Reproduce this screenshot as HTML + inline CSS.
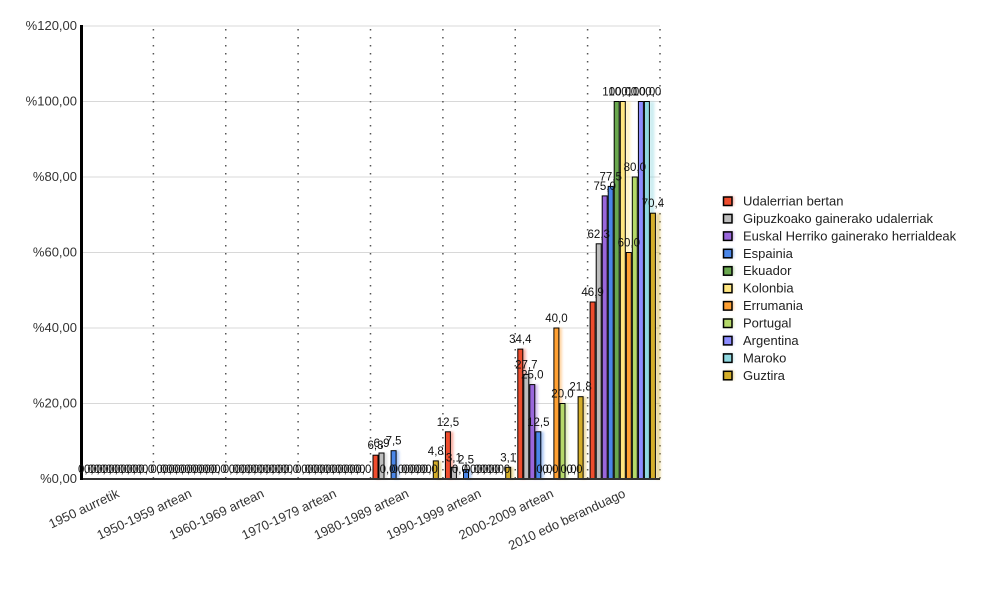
<!DOCTYPE html>
<html><head><meta charset="utf-8"><style>
html,body{margin:0;padding:0;background:#fff;}
svg{display:block;font-family:"Liberation Sans",Arial,sans-serif;}
.yl{font-size:13px;fill:#333;text-anchor:end;}
.xl{font-size:13px;fill:#333;text-anchor:end;}
.v{font-size:11.5px;fill:#111;text-anchor:middle;}
.lg{font-size:13px;fill:#222;}
.b{stroke:#000;stroke-width:1;}
</style></head><body>
<svg width="1000" height="600" viewBox="0 0 1000 600" xmlns="http://www.w3.org/2000/svg">
<defs><filter id="blur" x="-50%" y="-10%" width="200%" height="120%"><feGaussianBlur stdDeviation="1.2"/></filter></defs>
<rect width="1000" height="600" fill="#fff"/>
<!-- grid -->
<g stroke="#d8d8d8" stroke-width="1">
<line x1="81" y1="26" x2="660" y2="26"/><line x1="81" y1="101.5" x2="660" y2="101.5"/><line x1="81" y1="177" x2="660" y2="177"/><line x1="81" y1="252.5" x2="660" y2="252.5"/><line x1="81" y1="328" x2="660" y2="328"/><line x1="81" y1="403.5" x2="660" y2="403.5"/>
</g>
<g stroke="#555" stroke-width="1.5" stroke-dasharray="1.5 6.5">
<line x1="153.4" y1="29" x2="153.4" y2="479"/><line x1="225.75" y1="29" x2="225.75" y2="479"/><line x1="298.1" y1="29" x2="298.1" y2="479"/><line x1="370.5" y1="29" x2="370.5" y2="479"/><line x1="442.9" y1="29" x2="442.9" y2="479"/><line x1="515.25" y1="29" x2="515.25" y2="479"/><line x1="587.6" y1="29" x2="587.6" y2="479"/><line x1="660" y1="29" x2="660" y2="479"/>
</g>
<!-- y labels -->
<text class="yl" x="77" y="30">%120,00</text>
<text class="yl" x="77" y="105.5">%100,00</text>
<text class="yl" x="77" y="181">%80,00</text>
<text class="yl" x="77" y="256.5">%60,00</text>
<text class="yl" x="77" y="332">%40,00</text>
<text class="yl" x="77" y="407.5">%20,00</text>
<text class="yl" x="77" y="483">%0,00</text>
<!-- shadows -->
<g filter="url(#blur)" opacity="0.45">
<rect x="376" y="455.2" width="5" height="23.8" fill="#ee4d2e"/>
<rect x="382" y="453" width="5" height="26" fill="#bdbdbd"/>
<rect x="394.1" y="450.7" width="5" height="28.3" fill="#4a86e8"/>
<rect x="436.3" y="460.9" width="5" height="18.1" fill="#d4ae2a"/>
<rect x="448.4" y="431.8" width="5" height="47.2" fill="#ee4d2e"/>
<rect x="454.4" y="467.3" width="5" height="11.7" fill="#bdbdbd"/>
<rect x="466.5" y="469.6" width="5" height="9.4" fill="#4a86e8"/>
<rect x="508.7" y="467.3" width="5" height="11.7" fill="#d4ae2a"/>
<rect x="520.8" y="349.1" width="5" height="129.9" fill="#ee4d2e"/>
<rect x="526.8" y="374.4" width="5" height="104.6" fill="#bdbdbd"/>
<rect x="532.8" y="384.6" width="5" height="94.4" fill="#9a67dc"/>
<rect x="538.8" y="431.8" width="5" height="47.2" fill="#4a86e8"/>
<rect x="556.9" y="328" width="5" height="151" fill="#ffa033"/>
<rect x="563" y="403.5" width="5" height="75.5" fill="#b5d96a"/>
<rect x="581.1" y="396.7" width="5" height="82.3" fill="#d4ae2a"/>
<rect x="655.4" y="213.2" width="5" height="265.8" fill="#d4ae2a"/>
<rect x="649.4" y="101.5" width="5" height="377.5" fill="#8fd8e0"/>
<rect x="625.3" y="101.5" width="5" height="377.5" fill="#ffe680"/>
</g>
<!-- bars -->
<g class="b">
<rect x="373" y="455.2" width="5" height="23.8" fill="#ee4d2e"/>
<rect x="379" y="453" width="5" height="26" fill="#bdbdbd"/>
<rect x="391.1" y="450.7" width="5" height="28.3" fill="#4a86e8"/>
<rect x="433.3" y="460.9" width="5" height="18.1" fill="#d4ae2a"/>
<rect x="445.4" y="431.8" width="5" height="47.2" fill="#ee4d2e"/>
<rect x="451.4" y="467.3" width="5" height="11.7" fill="#bdbdbd"/>
<rect x="463.5" y="469.6" width="5" height="9.4" fill="#4a86e8"/>
<rect x="505.7" y="467.3" width="5" height="11.7" fill="#d4ae2a"/>
<rect x="517.8" y="349.1" width="5" height="129.9" fill="#ee4d2e"/>
<rect x="523.8" y="374.4" width="5" height="104.6" fill="#bdbdbd"/>
<rect x="529.8" y="384.6" width="5" height="94.4" fill="#9a67dc"/>
<rect x="535.8" y="431.8" width="5" height="47.2" fill="#4a86e8"/>
<rect x="553.9" y="328" width="5" height="151" fill="#ffa033"/>
<rect x="560" y="403.5" width="5" height="75.5" fill="#b5d96a"/>
<rect x="578.1" y="396.7" width="5" height="82.3" fill="#d4ae2a"/>
<rect x="590.1" y="302" width="5" height="177" fill="#ee4d2e"/>
<rect x="596.2" y="243.8" width="5" height="235.2" fill="#bdbdbd"/>
<rect x="602.2" y="195.9" width="5" height="283.1" fill="#9a67dc"/>
<rect x="608.2" y="186.4" width="5" height="292.6" fill="#4a86e8"/>
<rect x="614.2" y="101.5" width="5" height="377.5" fill="#6aa84f"/>
<rect x="620.3" y="101.5" width="5" height="377.5" fill="#ffe680"/>
<rect x="626.3" y="252.5" width="5" height="226.5" fill="#ffa033"/>
<rect x="632.3" y="177" width="5" height="302" fill="#b5d96a"/>
<rect x="638.4" y="101.5" width="5" height="377.5" fill="#8c8cff"/>
<rect x="644.4" y="101.5" width="5" height="377.5" fill="#8fd8e0"/>
<rect x="650.4" y="213.2" width="5" height="265.8" fill="#d4ae2a"/>
</g>
<!-- axes -->
<line x1="80" y1="479" x2="660" y2="479" stroke="#333" stroke-width="2"/>
<line x1="81.5" y1="25" x2="81.5" y2="480" stroke="#000" stroke-width="3"/>
<!-- value labels -->
<g class="v">
<text x="86" y="473">0,0</text><text x="92" y="473">0,0</text><text x="98.1" y="473">0,0</text><text x="104.1" y="473">0,0</text><text x="110.1" y="473">0,0</text><text x="116.2" y="473">0,0</text><text x="122.2" y="473">0,0</text><text x="128.2" y="473">0,0</text><text x="134.2" y="473">0,0</text><text x="140.3" y="473">0,0</text><text x="146.3" y="473">0,0</text>
<text x="158.4" y="473">0,0</text><text x="164.4" y="473">0,0</text><text x="170.4" y="473">0,0</text><text x="176.5" y="473">0,0</text><text x="182.5" y="473">0,0</text><text x="188.5" y="473">0,0</text><text x="194.6" y="473">0,0</text><text x="200.6" y="473">0,0</text><text x="206.6" y="473">0,0</text><text x="212.6" y="473">0,0</text><text x="218.7" y="473">0,0</text>
<text x="230.8" y="473">0,0</text><text x="236.8" y="473">0,0</text><text x="242.8" y="473">0,0</text><text x="248.8" y="473">0,0</text><text x="254.9" y="473">0,0</text><text x="260.9" y="473">0,0</text><text x="266.9" y="473">0,0</text><text x="273" y="473">0,0</text><text x="279" y="473">0,0</text><text x="285" y="473">0,0</text><text x="291.1" y="473">0,0</text>
<text x="303.1" y="473">0,0</text><text x="309.2" y="473">0,0</text><text x="315.2" y="473">0,0</text><text x="321.2" y="473">0,0</text><text x="327.2" y="473">0,0</text><text x="333.3" y="473">0,0</text><text x="339.3" y="473">0,0</text><text x="345.3" y="473">0,0</text><text x="351.4" y="473">0,0</text><text x="357.4" y="473">0,0</text><text x="363.4" y="473">0,0</text>
<text x="375.5" y="449.2">6,3</text><text x="381.5" y="447">6,9</text><text x="387.6" y="473">0,0</text><text x="393.6" y="444.7">7,5</text><text x="399.6" y="473">0,0</text><text x="405.7" y="473">0,0</text><text x="411.7" y="473">0,0</text><text x="417.7" y="473">0,0</text><text x="423.7" y="473">0,0</text><text x="429.8" y="473">0,0</text><text x="435.8" y="454.9">4,8</text>
<text x="447.9" y="425.8">12,5</text><text x="453.9" y="461.3">3,1</text><text x="459.9" y="473">0,0</text><text x="466" y="463.6">2,5</text><text x="472" y="473">0,0</text><text x="478" y="473">0,0</text><text x="484.1" y="473">0,0</text><text x="490.1" y="473">0,0</text><text x="496.1" y="473">0,0</text><text x="502.2" y="473">0,0</text><text x="508.2" y="461.3">3,1</text>
<text x="520.3" y="343.1">34,4</text><text x="526.3" y="368.4">27,7</text><text x="532.3" y="378.6">25,0</text><text x="538.3" y="425.8">12,5</text><text x="544.4" y="473">0,0</text><text x="550.4" y="473">0,0</text><text x="556.4" y="322">40,0</text><text x="562.5" y="397.5">20,0</text><text x="568.5" y="473">0,0</text><text x="574.5" y="473">0,0</text><text x="580.6" y="390.7">21,8</text>
<text x="592.6" y="296">46,9</text><text x="598.7" y="237.8">62,3</text><text x="604.7" y="189.9">75,0</text><text x="610.7" y="180.4">77,5</text><text x="616.7" y="95.5">100,0</text><text x="622.8" y="95.5">100,0</text><text x="628.8" y="246.5">60,0</text><text x="634.8" y="171">80,0</text><text x="640.9" y="95.5">100,0</text><text x="646.9" y="95.5">100,0</text><text x="652.9" y="207.2">70,4</text>
</g>
<!-- x labels -->
<text class="xl" transform="translate(120.2,496.5) rotate(-25)">1950 aurretik</text>
<text class="xl" transform="translate(192.6,496.5) rotate(-25)">1950-1959 artean</text>
<text class="xl" transform="translate(264.9,496.5) rotate(-25)">1960-1969 artean</text>
<text class="xl" transform="translate(337.3,496.5) rotate(-25)">1970-1979 artean</text>
<text class="xl" transform="translate(409.7,496.5) rotate(-25)">1980-1989 artean</text>
<text class="xl" transform="translate(482.1,496.5) rotate(-25)">1990-1999 artean</text>
<text class="xl" transform="translate(554.4,496.5) rotate(-25)">2000-2009 artean</text>
<text class="xl" transform="translate(626.3,496.5) rotate(-25)">2010 edo beranduago</text>
<!-- legend -->
<g filter="url(#blur)" opacity="0.45">
<rect x="725" y="196.5" width="9" height="9" fill="#ee4d2e"/>
<rect x="725" y="213.9" width="9" height="9" fill="#bdbdbd"/>
<rect x="725" y="231.4" width="9" height="9" fill="#9a67dc"/>
<rect x="725" y="248.8" width="9" height="9" fill="#4a86e8"/>
<rect x="725" y="266.2" width="9" height="9" fill="#6aa84f"/>
<rect x="725" y="283.7" width="9" height="9" fill="#ffe680"/>
<rect x="725" y="301.1" width="9" height="9" fill="#ffa033"/>
<rect x="725" y="318.5" width="9" height="9" fill="#b5d96a"/>
<rect x="725" y="335.9" width="9" height="9" fill="#8c8cff"/>
<rect x="725" y="353.4" width="9" height="9" fill="#8fd8e0"/>
<rect x="725" y="370.8" width="9" height="9" fill="#d4ae2a"/>
</g>
<g stroke="#000" stroke-width="1.5">
<rect x="723.5" y="197" width="8.5" height="8.5" fill="#ee4d2e"/>
<rect x="723.5" y="214.4" width="8.5" height="8.5" fill="#bdbdbd"/>
<rect x="723.5" y="231.9" width="8.5" height="8.5" fill="#9a67dc"/>
<rect x="723.5" y="249.3" width="8.5" height="8.5" fill="#4a86e8"/>
<rect x="723.5" y="266.7" width="8.5" height="8.5" fill="#6aa84f"/>
<rect x="723.5" y="284.2" width="8.5" height="8.5" fill="#ffe680"/>
<rect x="723.5" y="301.6" width="8.5" height="8.5" fill="#ffa033"/>
<rect x="723.5" y="319" width="8.5" height="8.5" fill="#b5d96a"/>
<rect x="723.5" y="336.4" width="8.5" height="8.5" fill="#8c8cff"/>
<rect x="723.5" y="353.9" width="8.5" height="8.5" fill="#8fd8e0"/>
<rect x="723.5" y="371.3" width="8.5" height="8.5" fill="#d4ae2a"/>
</g>
<g class="lg">
<text x="743" y="205.5">Udalerrian bertan</text>
<text x="743" y="222.9">Gipuzkoako gainerako udalerriak</text>
<text x="743" y="240.4">Euskal Herriko gainerako herrialdeak</text>
<text x="743" y="257.8">Espainia</text>
<text x="743" y="275.2">Ekuador</text>
<text x="743" y="292.7">Kolonbia</text>
<text x="743" y="310.1">Errumania</text>
<text x="743" y="327.5">Portugal</text>
<text x="743" y="344.9">Argentina</text>
<text x="743" y="362.4">Maroko</text>
<text x="743" y="379.8">Guztira</text>
</g>
</svg>
</body></html>
